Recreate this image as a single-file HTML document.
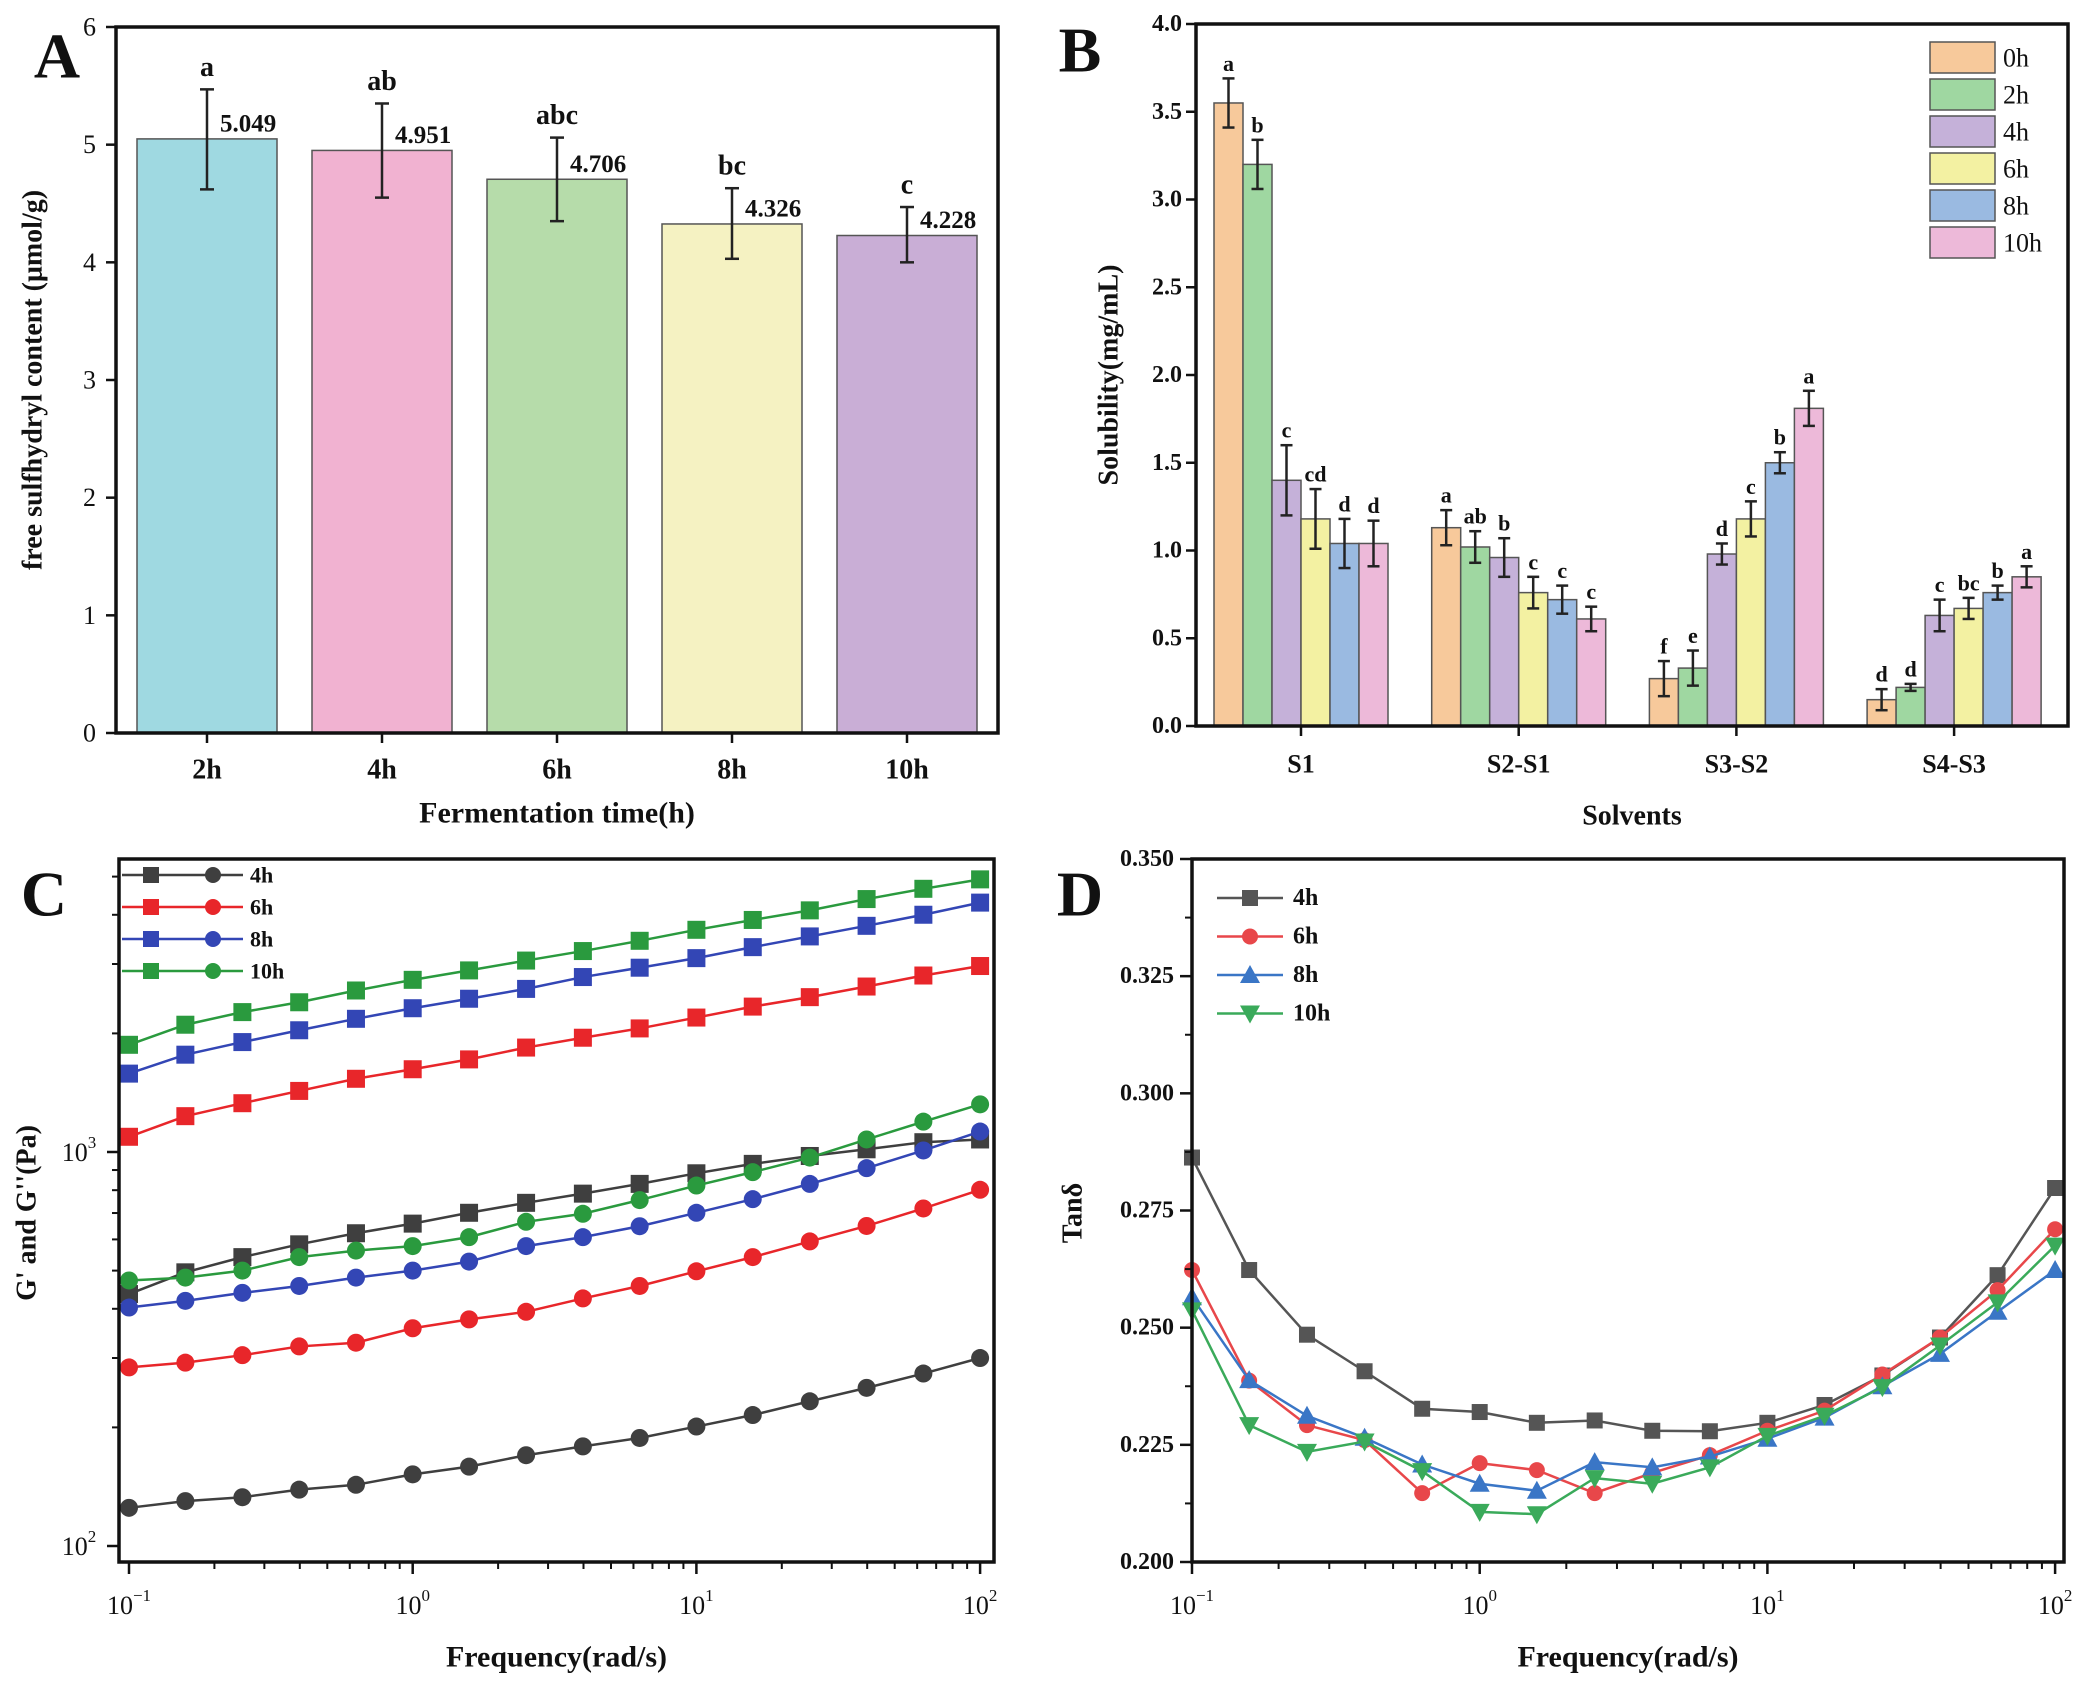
<!DOCTYPE html>
<html><head><meta charset="utf-8">
<style>
html,body{margin:0;padding:0;background:#fff;}
svg{display:block;font-family:"Liberation Serif",serif;font-weight:bold;}
</style></head>
<body>
<svg id="fig" width="2079" height="1689" viewBox="0 0 2079 1689" xmlns="http://www.w3.org/2000/svg"></svg>
<script>
// ---- Panel A data ----
const aCats = ["2h","4h","6h","8h","10h"];
const aVals = [5.049,4.951,4.706,4.326,4.228];
const aErrLo = [4.62,4.55,4.35,4.03,4.00];
const aErrHi = [5.47,5.35,5.06,4.63,4.47];
const aLetters = ["a","ab","abc","bc","c"];
const aColors = ["#9fd9e1","#f1b2d1","#b6dcaa","#f5f2c2","#c9aed6"];
const aTicks = [0,1,2,3,4,5,6];
// ---- Panel B data ----
const bCats = ["S1","S2-S1","S3-S2","S4-S3"];
const bSeries = ["0h","2h","4h","6h","8h","10h"];
const bVals0 = [3.55,1.13,0.27,0.15];
const bVals2 = [3.20,1.02,0.33,0.22];
const bVals4 = [1.40,0.96,0.98,0.63];
const bVals6 = [1.18,0.76,1.18,0.67];
const bVals8 = [1.04,0.72,1.50,0.76];
const bVals10 = [1.04,0.61,1.81,0.85];
const bErr0 = [0.14,0.10,0.10,0.06];
const bErr2 = [0.14,0.09,0.10,0.02];
const bErr4 = [0.20,0.11,0.06,0.09];
const bErr6 = [0.17,0.09,0.10,0.06];
const bErr8 = [0.14,0.08,0.06,0.04];
const bErr10 = [0.13,0.07,0.10,0.06];
const bLet0 = ["a","a","f","d"];
const bLet2 = ["b","ab","e","d"];
const bLet4 = ["c","b","d","c"];
const bLet6 = ["cd","c","c","bc"];
const bLet8 = ["d","c","b","b"];
const bLet10 = ["d","c","a","a"];
const bColors = ["#f7c99b","#9fd7a1","#c5b1d9","#f3f1a2","#9abae1","#edb9d9"];
const bTicks = [0,0.5,1.0,1.5,2.0,2.5,3.0,3.5,4.0];
// ---- Panel C data ----
const freq = [0.1,0.158,0.251,0.398,0.631,1,1.58,2.51,3.98,6.31,10,15.8,25.1,39.8,63.1,100];
const cG1_4h = [436,495,541,583,622,658,701,743,784,830,883,933,977,1016,1059,1076];
const cG1_6h = [1093,1233,1330,1429,1534,1622,1718,1841,1950,2059,2194,2339,2472,2630,2805,2965];
const cG1_8h = [1581,1766,1901,2037,2178,2317,2449,2594,2780,2936,3105,3311,3525,3750,4001,4295];
const cG1_10h = [1871,2104,2265,2399,2570,2735,2890,3061,3236,3436,3664,3881,4105,4385,4656,4920];
const cG2_4h = [125,130,133,139,143,152,159,170,179,188,201,215,233,252,274,300];
const cG2_6h = [284,292,305,321,328,357,376,393,425,457,498,541,593,649,719,802];
const cG2_8h = [403,419,439,457,480,500,527,577,608,648,701,759,830,910,1009,1127];
const cG2_10h = [472,480,500,541,562,577,608,665,697,755,822,889,968,1076,1194,1321];
const cLabels = ["4h","6h","8h","10h"];
// ---- Panel D data ----
const dT4 = [0.2863,0.2623,0.2485,0.2407,0.2327,0.2320,0.2297,0.2302,0.2280,0.2279,0.2297,0.2335,0.2398,0.2479,0.2612,0.2798];
const dT6 = [0.2623,0.2387,0.2292,0.2260,0.2147,0.2211,0.2196,0.2147,0.2190,0.2228,0.2280,0.2323,0.2400,0.2479,0.2580,0.2710];
const dT8 = [0.2565,0.2388,0.2312,0.2265,0.2208,0.2167,0.2152,0.2213,0.2202,0.2225,0.2263,0.2308,0.2375,0.2444,0.2534,0.2623];
const dT10 = [0.2537,0.2292,0.2235,0.2257,0.2194,0.2107,0.2102,0.2179,0.2167,0.2202,0.2269,0.2312,0.2373,0.2462,0.2554,0.2675];
const dTicks = [0.200,0.225,0.250,0.275,0.300,0.325,0.350];

const NS="http://www.w3.org/2000/svg";
const svg=document.getElementById('fig');
function mk(tag,attrs,parent,name,inter){
  const e=document.createElementNS(NS,tag);
  for(const k in attrs)e.setAttribute(k,attrs[k]);
  
  
  (parent||svg).appendChild(e);return e;
}
function txt(s,x,y,size,parent,name,anchor,extra){
  const t=mk('text',Object.assign({x:x,y:y,'font-size':size,'text-anchor':anchor||'middle','dominant-baseline':'central',fill:'#111'},extra||{}),parent,name);
  t.textContent=s;return t;
}
function pow10(b,e,x,y,parent,name){
  const t=mk('text',{x:x,y:y,'font-size':26,'text-anchor':'middle','dominant-baseline':'central',fill:'#111','font-weight':'normal'},parent,name);
  const s1=document.createElementNS(NS,'tspan');s1.textContent='10';t.appendChild(s1);
  const s2=document.createElementNS(NS,'tspan');s2.setAttribute('dy','-10');s2.setAttribute('font-size','17');s2.textContent=e;t.appendChild(s2);
}
function errbar(g,x,y1,y2,w,name){
  mk('line',{x1:x,x2:x,y1:y1,y2:y2,stroke:'#222','stroke-width':2.5},g,name);
  mk('line',{x1:x-w,x2:x+w,y1:y1,y2:y1,stroke:'#222','stroke-width':2.5},g,name+'-cap-top');
  mk('line',{x1:x-w,x2:x+w,y1:y2,y2:y2,stroke:'#222','stroke-width':2.5},g,name+'-cap-bottom');
}

// ================= Panel A =================
(function(){
  const g=mk('g',{},svg,'panel-a-bar-chart');
  const L=116,R=998,T=27,B=733;
  const y=v=>B-(v/6)*(B-T);
  const x=i=>207+175*i;
  const bw=140;
  aVals.forEach((v,i)=>{
    mk('rect',{x:x(i)-bw/2,y:y(v),width:bw,height:B-y(v),fill:aColors[i],stroke:'#555','stroke-width':1.5},g,'bar-'+aCats[i]);
    errbar(g,x(i),y(aErrHi[i]),y(aErrLo[i]),7,'error-bar-'+aCats[i]);
    txt(aVals[i].toFixed(3),x(i)+13,y(v)-15,25,g,'value-label-'+aCats[i],'start');
    txt(aLetters[i],x(i),y(aErrHi[i])-22,28,g,'significance-letter-'+aCats[i]);
    mk('line',{x1:x(i),x2:x(i),y1:B,y2:B+10,stroke:'#111','stroke-width':2.5},g,'x-tick');
    txt(aCats[i],x(i),770,28,g,'x-tick-label');
  });
  aTicks.forEach(t=>{
    mk('line',{x1:L-10,x2:L,y1:y(t),y2:y(t),stroke:'#111','stroke-width':2.5},g,'y-tick');
    txt(String(t),L-20,y(t),26,g,'y-tick-label','end',{'font-weight':'normal'});
  });
  mk('rect',{x:L,y:T,width:R-L,height:B-T,fill:'none',stroke:'#111','stroke-width':3.5},g,'plot-frame');
  txt('Fermentation time(h)',(L+R)/2,813,30,g,'x-axis-title');
  txt('free sulfhydryl content (μmol/g)',0,0,28,g,'y-axis-title','middle',{transform:'translate(33,'+(T+B)/2+') rotate(-90)'});
  txt('A',57,56,64,g,'panel-label-a');
})();

// ================= Panel B =================
(function(){
  const g=mk('g',{},svg,'panel-b-bar-chart');
  const L=1196,R=2068,T=24,B=726;
  const y=v=>B-(v/4)*(B-T);
  const gc=i=>1301+217.7*i;
  const bw=29;
  const vals=[bVals0,bVals2,bVals4,bVals6,bVals8,bVals10];
  const errs=[bErr0,bErr2,bErr4,bErr6,bErr8,bErr10];
  const lets=[bLet0,bLet2,bLet4,bLet6,bLet8,bLet10];
  bCats.forEach((c,ci)=>{
    vals.forEach((arr,si)=>{
      const cx=gc(ci)+(si-2.5)*bw;
      const v=arr[ci],e=errs[si][ci];
      mk('rect',{x:cx-bw/2,y:y(v),width:bw,height:B-y(v),fill:bColors[si],stroke:'#555','stroke-width':1.5},g,'bar-'+c+'-'+bSeries[si]);
      errbar(g,cx,y(v+e),y(Math.max(0,v-e)),6,'error-bar-'+c+'-'+bSeries[si]);
      txt(lets[si][ci],cx,y(v+e)-15,22,g,'significance-letter');
    });
    mk('line',{x1:gc(ci),x2:gc(ci),y1:B,y2:B+10,stroke:'#111','stroke-width':2.5},g,'x-tick');
    txt(c,gc(ci),764,26,g,'x-tick-label');
  });
  bTicks.forEach(t=>{
    mk('line',{x1:L-10,x2:L,y1:y(t),y2:y(t),stroke:'#111','stroke-width':2.5},g,'y-tick');
    txt(t.toFixed(1),L-14,y(t),24,g,'y-tick-label','end');
  });
  mk('rect',{x:L,y:T,width:R-L,height:B-T,fill:'none',stroke:'#111','stroke-width':3.5},g,'plot-frame');
  bSeries.forEach((s,i)=>{
    const ly=42+i*37;
    mk('rect',{x:1930,y:ly,width:65,height:31,fill:bColors[i],stroke:'#555','stroke-width':1.5},g,'legend-swatch-'+s);
    txt(s,2003,ly+16,26,g,'legend-label-'+s,'start',{'font-weight':'normal'});
  });
  txt('Solvents',(L+R)/2,816,28,g,'x-axis-title');
  txt('Solubility(mg/mL)',0,0,28,g,'y-axis-title','middle',{transform:'translate(1109,'+(T+B)/2+') rotate(-90)'});
  txt('B',1080,50,64,g,'panel-label-b');
})();

// ================= Panel C =================
(function(){
  const g=mk('g',{},svg,'panel-c-line-chart');
  const L=119,R=994,T=859,B=1562;
  const x=f=>129+(Math.log10(f)+1)*283.7;
  const y=v=>1152-(Math.log10(v)-3)*394;
  const colors=['#3f3f3f','#e8262a','#3346b5','#2a9a3e'];
  const g1=[cG1_4h,cG1_6h,cG1_8h,cG1_10h];
  const g2=[cG2_4h,cG2_6h,cG2_8h,cG2_10h];
  function series(arr,col,shape,name){
    mk('polyline',{points:arr.map((v,i)=>x(freq[i])+','+y(v)).join(' '),fill:'none',stroke:col,'stroke-width':2.5},g,name+'-line');
    arr.forEach((v,i)=>{
      if(shape==='sq')mk('rect',{x:x(freq[i])-9,y:y(v)-9,width:18,height:18,fill:col},g,name+'-point');
      else mk('circle',{cx:x(freq[i]),cy:y(v),r:9,fill:col},g,name+'-point');
    });
  }
  for(let k=0;k<4;k++){series(g1[k],colors[k],'sq','storage-modulus-'+cLabels[k]);series(g2[k],colors[k],'ci','loss-modulus-'+cLabels[k]);}
  for(let d=-1;d<=2;d++){
    mk('line',{x1:x(Math.pow(10,d)),x2:x(Math.pow(10,d)),y1:B,y2:B+12,stroke:'#111','stroke-width':2.5},g,'x-major-tick');
    pow10(10,String(d).replace('-','−'),x(Math.pow(10,d)),1605,g,'x-tick-label');
    if(d<2)for(let m=2;m<=9;m++){const xx=x(m*Math.pow(10,d));mk('line',{x1:xx,x2:xx,y1:B,y2:B+7,stroke:'#111','stroke-width':2},g,'x-minor-tick');}
  }
  [2,3].forEach(e=>{
    mk('line',{x1:L-12,x2:L,y1:y(Math.pow(10,e)),y2:y(Math.pow(10,e)),stroke:'#111','stroke-width':2.5},g,'y-major-tick');
    pow10(10,String(e),L-40,y(Math.pow(10,e)),g,'y-tick-label');
  });
  [2,3].forEach(e=>{for(let m=2;m<=9;m++){const v=m*Math.pow(10,e);const yy=y(v);if(yy<T)continue;mk('line',{x1:L-7,x2:L,y1:yy,y2:yy,stroke:'#111','stroke-width':2},g,'y-minor-tick');}});
  mk('rect',{x:L,y:T,width:R-L,height:B-T,fill:'none',stroke:'#111','stroke-width':3.5},g,'plot-frame');
  cLabels.forEach((s,i)=>{
    const ly=875+i*32;
    mk('line',{x1:122,x2:243,y1:ly,y2:ly,stroke:colors[i],'stroke-width':2.5},g,'legend-line-'+s);
    mk('rect',{x:143,y:ly-8,width:16,height:16,fill:colors[i]},g,'legend-square-'+s);
    mk('circle',{cx:213,cy:ly,r:8,fill:colors[i]},g,'legend-circle-'+s);
    txt(s,250,ly,22,g,'legend-label-'+s,'start');
  });
  txt('Frequency(rad/s)',(L+R)/2,1657,30,g,'x-axis-title');
  txt("G' and G''(Pa)",0,0,28,g,'y-axis-title','middle',{transform:'translate(27,1213) rotate(-90)'});
  txt('C',44,894,64,g,'panel-label-c');
})();

// ================= Panel D =================
(function(){
  const g=mk('g',{},svg,'panel-d-line-chart');
  const L=1192,R=2064,T=859,B=1562;
  const x=f=>1192+(Math.log10(f)+1)*287.7;
  const y=v=>B-(v-0.2)/0.15*(B-T);
  const colors=['#555555','#e8474a','#3a76c6','#3aaa5a'];
  const data=[dT4,dT6,dT8,dT10];
  const names=['4h','6h','8h','10h'];
  function marker(shape,cx,cy,col,name){
    if(shape===0)mk('rect',{x:cx-8,y:cy-8,width:16,height:16,fill:col},g,name);
    else if(shape===1)mk('circle',{cx:cx,cy:cy,r:8,fill:col},g,name);
    else if(shape===2)mk('polygon',{points:(cx)+','+(cy-10)+' '+(cx-10)+','+(cy+8)+' '+(cx+10)+','+(cy+8),fill:col},g,name);
    else mk('polygon',{points:(cx)+','+(cy+10)+' '+(cx-10)+','+(cy-8)+' '+(cx+10)+','+(cy-8),fill:col},g,name);
  }
  data.forEach((arr,k)=>{
    mk('polyline',{points:arr.map((v,i)=>x(freq[i])+','+y(v)).join(' '),fill:'none',stroke:colors[k],'stroke-width':2.5},g,'tan-delta-line-'+names[k]);
    arr.forEach((v,i)=>marker(k,x(freq[i]),y(v),colors[k],'tan-delta-point-'+names[k]));
  });
  for(let d=-1;d<=2;d++){
    mk('line',{x1:x(Math.pow(10,d)),x2:x(Math.pow(10,d)),y1:B,y2:B+12,stroke:'#111','stroke-width':2.5},g,'x-major-tick');
    pow10(10,String(d).replace('-','−'),x(Math.pow(10,d)),1605,g,'x-tick-label');
    if(d<2)for(let m=2;m<=9;m++){const xx=x(m*Math.pow(10,d));mk('line',{x1:xx,x2:xx,y1:B,y2:B+7,stroke:'#111','stroke-width':2},g,'x-minor-tick');}
  }
  dTicks.forEach(t=>{
    mk('line',{x1:L-12,x2:L,y1:y(t),y2:y(t),stroke:'#111','stroke-width':2.5},g,'y-tick');
    txt(t.toFixed(3),L-18,y(t),24,g,'y-tick-label','end');
  });
  for(let i=0;i<6;i++){const yy=y(0.2125+0.025*i);mk('line',{x1:L-7,x2:L,y1:yy,y2:yy,stroke:'#111','stroke-width':2},g,'y-minor-tick');}
  mk('rect',{x:L,y:T,width:R-L,height:B-T,fill:'none',stroke:'#111','stroke-width':3.5},g,'plot-frame');
  names.forEach((s,i)=>{
    const ly=898+i*38.5;
    mk('line',{x1:1217,x2:1283,y1:ly,y2:ly,stroke:colors[i],'stroke-width':2.5},g,'legend-line-'+s);
    marker(i,1250,ly,colors[i],'legend-marker-'+s);
    txt(s,1293,ly,24,g,'legend-label-'+s,'start');
  });
  txt('Frequency(rad/s)',(L+R)/2,1657,30,g,'x-axis-title');
  txt('Tanδ',0,0,28,g,'y-axis-title','middle',{transform:'translate(1073,1213) rotate(-90)'});
  txt('D',1080,894,64,g,'panel-label-d');
})();
</script>
</body></html>
